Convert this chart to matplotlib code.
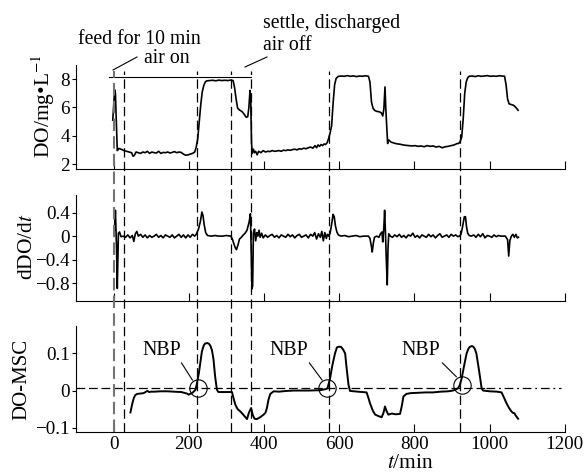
import numpy as np
import matplotlib
matplotlib.use('Agg')
import matplotlib.pyplot as plt
from matplotlib.lines import Line2D
from matplotlib.transforms import blended_transform_factory

plt.rcParams['font.family'] = ['Liberation Serif', 'DejaVu Serif']
plt.rcParams['mathtext.fontset'] = 'stix'
plt.rcParams['font.size'] = 13

# ---- data ----
t_do = [-2, 3, 5, 10, 14, 20, 28, 35, 42, 48, 52, 55, 60, 66, 72, 78, 84, 90, 96, 102,
        108, 114, 120, 126, 132, 138, 144, 150, 156, 162, 168, 174, 180, 186, 192, 198,
        204, 210, 216, 220, 224, 228, 232, 236, 240, 244, 248, 256, 264, 272, 280, 288,
        296, 304, 312, 318, 322, 326, 330, 336, 342, 348, 353, 357, 360, 363, 365, 367,
        369, 372, 375, 378, 382, 386, 392, 398, 404, 410, 416, 422, 428, 434, 440, 446,
        452, 458, 464, 470, 476, 482, 488, 494, 500, 506, 512, 518, 524, 530, 536, 540,
        544, 548, 552, 556, 560, 564, 568, 572, 576, 580, 584, 588, 592, 598, 606, 614,
        622, 630, 638, 646, 654, 662, 670, 678, 682, 686, 690, 694, 700, 706, 712, 716,
        719, 722, 724, 727, 729, 732, 738, 744, 750, 756, 762, 770, 778, 786, 794, 802,
        810, 818, 826, 834, 842, 850, 858, 866, 874, 882, 890, 898, 906, 914, 918, 922,
        926, 930, 934, 938, 942, 946, 954, 962, 970, 978, 986, 994, 1002, 1010, 1018,
        1026, 1034, 1040, 1044, 1048, 1052, 1058, 1064, 1070, 1076]
do = [5.1, 7.25, 7.0, 2.95, 3.1, 3.05, 2.95, 2.9, 2.85, 2.8, 2.55, 2.6, 2.85, 2.8, 2.75,
      2.85, 2.8, 2.9, 2.75, 2.85, 2.8, 2.78, 2.9, 2.75, 2.82, 2.8, 2.85, 2.78, 2.82, 2.88,
      2.8, 2.85, 2.82, 2.7, 2.62, 2.65, 2.7, 2.75, 2.85, 3.2, 3.8, 5.0, 6.2, 7.1, 7.55,
      7.8, 7.88, 7.9, 7.92, 7.88, 7.93, 7.9, 7.92, 7.9, 7.93, 7.9, 7.4, 6.6, 5.95, 5.8,
      5.7, 5.5, 5.3, 5.35, 6.0, 7.2, 6.5, 3.5, 2.75, 3.05, 2.8, 2.9, 2.65, 2.9, 2.8,
      2.95, 2.85, 2.9, 2.88, 2.95, 2.9, 2.92, 2.95, 2.9, 2.98, 2.95, 3.0, 2.97, 3.02,
      3.05, 3.0, 3.08, 3.05, 3.12, 3.08, 3.15, 3.2, 3.12, 3.3, 3.15, 3.35, 3.25, 3.38,
      3.3, 3.42, 3.38, 3.5, 3.8, 4.2, 4.7, 6.3, 7.6, 8.05, 8.2, 8.22, 8.2, 8.25, 8.2,
      8.23, 8.18, 8.22, 8.2, 8.24, 8.2, 7.8, 6.4, 5.95, 5.8, 5.72, 5.7, 5.62, 5.4, 5.9,
      7.45, 6.0, 4.5, 3.45, 3.7, 3.55, 3.5, 3.45, 3.42, 3.4, 3.35, 3.32, 3.3, 3.28, 3.3,
      3.25, 3.28, 3.22, 3.3, 3.25, 3.28, 3.2, 3.25, 3.15, 3.22, 3.25, 3.3, 3.35, 3.45,
      3.45, 3.6, 3.9, 5.2, 7.0, 7.8, 8.1, 8.2, 8.22, 8.18, 8.24, 8.2, 8.22, 8.25, 8.2,
      8.22, 8.2, 8.24, 8.22, 8.2, 7.6, 6.6, 6.25, 6.2, 6.15, 6.0, 5.8]

# dDO/dt as (t, value) pairs
rate_pts = [
    (3, 0.1), (5, 0.44), (8, -0.2), (10, -0.89), (13, 0.05), (16, 0.07), (20, -0.01),
    (26, 0.0), (32, -0.02), (38, 0.02), (44, -0.03), (50, 0.01), (54, -0.09), (58, 0.04),
    (62, 0.08), (66, 0.0), (72, 0.03), (78, -0.02), (84, 0.02), (90, -0.03), (96, 0.01),
    (102, -0.02), (108, 0.0), (114, 0.03), (120, -0.02), (126, 0.01), (132, -0.03),
    (138, 0.02), (144, 0.0), (150, -0.02), (156, 0.02), (162, -0.03), (168, 0.0),
    (174, 0.03), (180, -0.02), (186, 0.02), (192, -0.03), (198, 0.02), (204, -0.02),
    (210, 0.03), (216, 0.0), (220, 0.03), (226, 0.12), (231, 0.25), (235, 0.41),
    (238, 0.35), (241, 0.2), (245, 0.06), (250, 0.01), (260, 0.0), (270, 0.01), (280, 0.0),
    (290, 0.0), (300, 0.01), (312, 0.0), (316, -0.05), (320, -0.13), (324, -0.2),
    (327, -0.23), (331, -0.15), (335, -0.05), (340, -0.02), (345, 0.02), (350, 0.05),
    (355, 0.1), (361, 0.25), (364, 0.38), (366, -0.2), (368, -0.9), (370, -0.85),
    (372, 0.05), (375, 0.12), (378, -0.08), (381, 0.06), (384, 0.0), (387, 0.1),
    (390, -0.02), (394, 0.05), (398, -0.03), (404, 0.02), (410, -0.02), (416, 0.01),
    (422, 0.03), (428, -0.02), (434, 0.01), (440, -0.03), (446, 0.02), (452, 0.0),
    (458, -0.02), (464, 0.03), (470, -0.01), (476, 0.02), (482, -0.03), (488, 0.01),
    (494, 0.03), (500, -0.02), (506, 0.0), (512, 0.02), (518, -0.03), (524, 0.03),
    (530, 0.0), (535, 0.06), (540, -0.05), (545, 0.04), (550, -0.02), (554, 0.08),
    (558, -0.08), (562, 0.06), (566, -0.04), (569, 0.03), (572, 0.0), (576, 0.05),
    (580, 0.2), (584, 0.37), (587, 0.33), (590, 0.18), (594, 0.07), (598, 0.02),
    (605, 0.0), (615, 0.01), (625, -0.01), (635, 0.0), (645, 0.01), (655, -0.01),
    (665, 0.0), (678, 0.0), (682, -0.04), (686, -0.18), (688, -0.27), (691, -0.12),
    (694, -0.02), (700, 0.0), (706, -0.02), (710, 0.04), (714, 0.07), (716, -0.1),
    (719, 0.15), (721, 0.44), (723, 0.1), (726, -0.5), (728, -0.83), (730, -0.2),
    (732, 0.04), (736, 0.0), (742, -0.02), (748, 0.02), (754, -0.01), (760, 0.03),
    (766, -0.02), (772, 0.01), (778, -0.03), (784, 0.02), (790, 0.0), (796, 0.05),
    (802, -0.02), (808, 0.01), (814, -0.03), (820, 0.02), (826, 0.0), (832, -0.02),
    (838, 0.03), (844, -0.01), (850, 0.02), (856, -0.03), (862, 0.01), (868, 0.04),
    (874, -0.02), (880, 0.0), (886, 0.02), (892, -0.02), (898, 0.03), (904, 0.0),
    (910, 0.02), (916, -0.01), (920, 0.0), (924, 0.03), (928, 0.15), (933, 0.33),
    (936, 0.33), (939, 0.15), (942, 0.05), (946, 0.01), (952, 0.0), (958, 0.02),
    (964, -0.02), (970, 0.03), (976, -0.01), (982, 0.04), (988, -0.03), (994, 0.01),
    (1000, 0.0), (1006, -0.02), (1012, 0.02), (1018, -0.01), (1024, 0.01), (1030, 0.0),
    (1036, 0.0), (1042, 0.0), (1048, -0.06), (1051, -0.34), (1054, -0.08), (1058, 0.0),
    (1062, 0.03), (1066, -0.02), (1070, 0.03), (1074, -0.03), (1077, -0.02)]
t_rate = [p[0] for p in rate_pts]
rate = [p[1] for p in rate_pts]

t_msc = [45, 50, 54, 58, 63, 72, 80, 90, 95, 100, 110, 125, 143, 160, 180, 195, 200, 210,
         218, 222, 227, 235, 240, 244, 250, 254, 258, 262, 266, 270, 275, 279, 300, 315,
         319, 324, 330, 337, 345, 355, 360, 366, 370, 375, 381, 390, 399, 404, 408, 412,
         417, 426, 440, 460, 480, 496, 520, 550, 565, 569, 576, 582, 589, 594, 598, 605,
         611, 616, 620, 625, 629, 650, 673, 678, 682, 690, 696, 705, 713, 718, 722, 726,
         731, 740, 750, 762, 767, 771, 779, 790, 810, 830, 850, 870, 890, 903, 916, 921,
         926, 932, 939, 944, 948, 953, 957, 961, 965, 972, 979, 983, 1000, 1020, 1032,
         1038, 1045, 1052, 1058, 1062, 1066, 1070, 1076]
msc = [-0.059, -0.035, -0.02, -0.012, -0.009, -0.008, -0.007, -0.001, -0.004, -0.003,
       -0.003, -0.002, -0.002, -0.003, -0.004, -0.008, -0.011, -0.006, 0.002, 0.02, 0.047,
       0.105, 0.122, 0.127, 0.128, 0.126, 0.12, 0.108, 0.083, 0.04, 0.002, -0.004, -0.004,
       -0.004, -0.02, -0.038, -0.05, -0.056, -0.065, -0.077, -0.06, -0.047, -0.065, -0.076,
       -0.077, -0.072, -0.065, -0.06, -0.047, -0.025, -0.009, -0.002, -0.003, -0.001, 0.0,
       0.0, 0.0, 0.001, 0.004, 0.006, 0.033, 0.068, 0.1, 0.116, 0.118, 0.118, 0.11, 0.1,
       0.06, 0.015, -0.001, -0.003, -0.005, -0.02, -0.034, -0.055, -0.065, -0.069, -0.072,
       -0.06, -0.043, -0.055, -0.065, -0.062, -0.064, -0.063, -0.04, -0.016, -0.009,
       -0.007, -0.006, -0.005, -0.005, -0.003, -0.002, 0.0, 0.006, 0.015, 0.033, 0.065,
       0.1, 0.113, 0.118, 0.12, 0.118, 0.112, 0.1, 0.055, 0.006, 0.0, -0.002, -0.003,
       -0.005, -0.018, -0.034, -0.047, -0.056, -0.06, -0.061, -0.068, -0.076]

phase_t = [0, 28, 221, 313, 366, 572, 922]   # vertical dashed lines
nbp_t = [224, 569, 926]
nbp_v = [0.006, 0.006, 0.015]
nbp_text_t = [128, 467, 818]
msc_ref = 0.0065
do_sat = 8.12

x_ticks = [0, 200, 400, 600, 800, 1000, 1200]
do_ticks = [2, 4, 6, 8]
rate_ticks = [0.4, 0, -0.4, -0.8]
rate_labels = ['0.4', '0', '\u22120.4', '\u22120.8']
msc_ticks = [0.1, 0, -0.1]
msc_labels = ['0.1', '0', '\u22120.1']

# ---- figure ----
W, H = 584, 474
fig = plt.figure(figsize=(W / 100, H / 100), dpi=100)
ax1 = fig.add_axes([0.130, 0.6435, 0.837, 0.2194])
ax2 = fig.add_axes([0.130, 0.3656, 0.837, 0.2230])
ax3 = fig.add_axes([0.130, 0.0892, 0.837, 0.2230])

for ax in (ax1, ax2, ax3):
    ax.set_xlim(-100, 1200)
    ax.spines['top'].set_visible(False)
    ax.spines['right'].set_visible(False)
    ax.spines['left'].set_linewidth(0.8)
    ax.spines['bottom'].set_linewidth(0.8)
    ax.set_xticks(x_ticks)
    ax.tick_params(axis='x', direction='in', length=6, width=0.8, pad=3)
    ax.tick_params(axis='y', direction='out', length=3, width=0.8, pad=1.5,
                   labelsize=13.8)
    ax.patch.set_visible(False)

ax1.set_xticklabels([])
ax2.set_xticklabels([])
ax3.set_xticklabels([str(v) for v in x_ticks], fontsize=13.8)

ax1.plot(t_do, do, color='k', lw=1.2)
ax1.set_ylim(1.65, 9.0)
ax1.set_yticks(do_ticks)
ax1.set_yticklabels([str(v) for v in do_ticks])
ax1.plot([-13, phase_t[4]], [do_sat, do_sat], color='k', lw=0.8)

ax2.plot(t_rate, rate, color='k', lw=1.2)
ax2.set_ylim(-1.1, 0.7)
ax2.set_yticks(rate_ticks)
ax2.set_yticklabels(rate_labels)

ax3.plot(t_msc, msc, color='k', lw=1.4)
ax3.set_ylim(-0.111, 0.174)
ax3.set_yticks(msc_ticks)
ax3.set_yticklabels(msc_labels)
ax3.plot([-100, 990], [msc_ref, msc_ref], color='k', lw=0.9, dashes=(7, 3))
ax3.plot([990, 1190], [msc_ref, msc_ref], color='k', lw=0.9, dashes=(7, 3, 1.5, 3))
ax3.plot(nbp_t, nbp_v, linestyle='none', marker='o', ms=12.5, mfc='none',
         mec='k', mew=0.8)
for xt, xn, yn in zip(nbp_text_t, nbp_t, nbp_v):
    ax3.annotate('NBP', xy=(xn - 14, yn + 0.022), xytext=(xt, 0.108),
                 ha='center', va='center', fontsize=14.3,
                 arrowprops=dict(arrowstyle='-', lw=0.8, shrinkA=0, shrinkB=0,
                                 relpos=(0.95, 0.05)))

# vertical phase lines across all panels
tr = blended_transform_factory(ax3.transData, fig.transFigure)
for i, xv in enumerate(phase_t):
    if i == 0:
        ln = Line2D([xv, xv], [0.0886, 0.850], transform=tr, color='0.45', lw=1.5,
                    dashes=(6, 2.5))
    else:
        ln = Line2D([xv, xv], [0.0886, 0.850], transform=tr, color='k', lw=0.9,
                    dashes=(7.5, 3.5))
    fig.add_artist(ln)

# annotations at top
fig.text(77.7 / W, 1 - 44 / H, 'feed for 10 min', fontsize=14.2, va='baseline')
fig.text(144 / W, 1 - 63 / H, 'air on', fontsize=14.2, va='baseline')
fig.text(263 / W, 1 - 28 / H, 'settle, discharged', fontsize=14.2, va='baseline')
fig.text(263 / W, 1 - 50 / H, 'air off', fontsize=14.2, va='baseline')
fig.add_artist(Line2D([113 / W, 137 / W], [1 - 70 / H, 1 - 57 / H], color='k', lw=0.8))
fig.add_artist(Line2D([245 / W, 267 / W], [1 - 67 / H, 1 - 57 / H], color='k', lw=0.8))

# axis labels
fig.text(43 / W, 1 - 106 / H, 'DO/mg\u2022L$^{-1}$', rotation=90, ha='center',
         va='center', fontsize=15.5)
fig.text(27 / W, 1 - 247 / H, 'dDO/d$t$', rotation=90, ha='center', va='center',
         fontsize=15.5)
fig.text(22 / W, 1 - 379 / H, 'DO-MSC', rotation=90, ha='center', va='center',
         fontsize=15)
fig.text(410 / W, 1 - 463 / H, '$t$/min', ha='center', va='center', fontsize=15.5)

fig.savefig('out.png', dpi=100)
